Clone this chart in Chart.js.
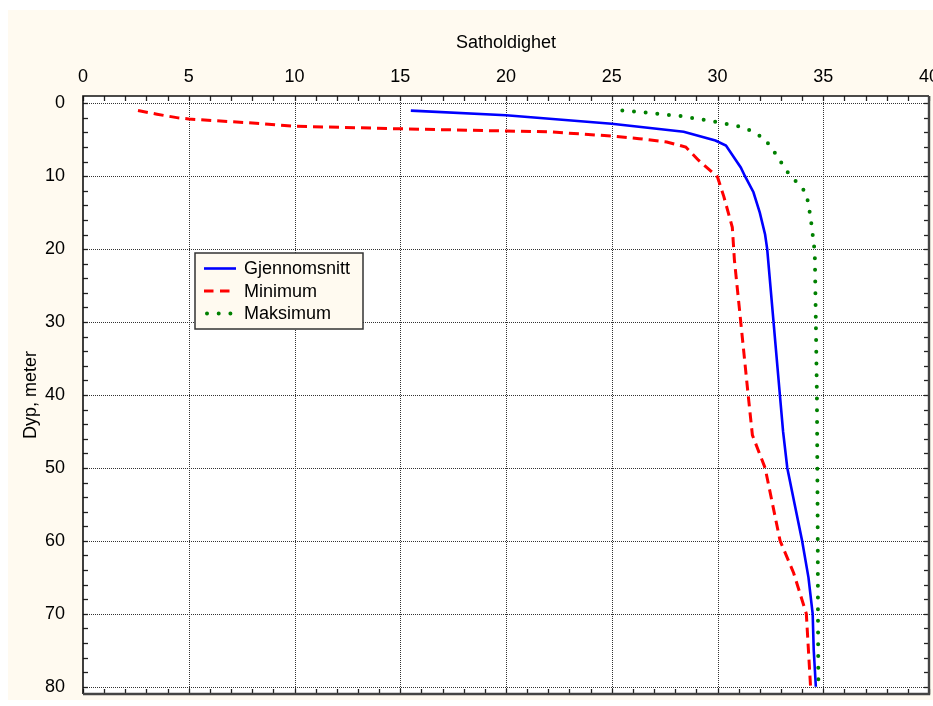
<!DOCTYPE html>
<html>
<head>
<meta charset="utf-8">
<script src="https://cdn.jsdelivr.net/npm/chart.js@4/dist/chart.umd.min.js"></script>
<style>
  html, body { margin: 0; padding: 0; background: #ffffff; }
  #wrap { position: absolute; left: 0; top: 0; width: 933px; height: 706px; }
</style>
</head>
<body>
<div id="wrap"><canvas id="c" width="933" height="706"></canvas></div>
<script>
// ---- Data (salinity vs depth) ----
const seriesNames = ['Gjennomsnitt', 'Minimum', 'Maksimum'];

const gjSal = [15.5, 20.0, 25.0, 28.4, 29.9, 30.4, 31.1, 31.3, 31.7, 32.0, 32.25, 32.35, 32.5, 32.65, 32.8, 32.95, 33.1, 33.3, 33.65, 34.0, 34.3, 34.5, 34.55, 34.65];
const gjDep = [1.0, 1.65, 2.8, 3.9, 5.1, 5.8, 8.8, 10.0, 12.2, 15.0, 18.0, 20.0, 25.0, 30.0, 35.0, 40.0, 45.0, 50.0, 55.0, 60.0, 65.0, 70.0, 75.0, 80.0];

const minSal = [2.6, 3.5, 4.5, 5.0, 8.5, 10.0, 15.0, 20.0, 22.0, 25.0, 26.3, 27.6, 28.5, 29.1, 30.0, 30.3, 30.7, 30.8, 31.1, 31.45, 31.65, 32.25, 32.96, 33.6, 34.2, 34.4];
const minDep = [1.0, 1.5, 2.0, 2.15, 2.8, 3.15, 3.5, 3.8, 3.9, 4.5, 4.85, 5.3, 6.0, 7.8, 10.1, 12.8, 17.0, 21.5, 30.0, 40.0, 45.5, 50.0, 60.0, 64.4, 70.0, 80.0];

const maksSal = [25.5, 26.7, 28.4, 30.0, 31.1, 31.6, 32.2, 32.6, 33.3, 33.8, 34.2, 34.4, 34.6, 34.65, 34.7, 34.72, 34.74, 34.75, 34.77];
const maksDep = [1.0, 1.3, 1.8, 2.6, 3.2, 3.8, 4.8, 6.3, 9.4, 11.0, 12.3, 15.6, 20.4, 30.0, 40.0, 50.0, 60.0, 70.0, 80.0];

const xTickLabels = [0, 5, 10, 15, 20, 25, 30, 35, 40];
const yTickLabels = [0, 10, 20, 30, 40, 50, 60, 70, 80];

const xTitle = 'Satholdighet';
const yTitle = 'Dyp, meter';

// ---- helpers ----
const toPts = (xs, ys) => xs.map((v, i) => ({ x: v, y: ys[i] }));
const FONT = "'Liberation Sans', Arial, sans-serif";
const BEIGE = '#fffaf0';

const styles = [
  { borderColor: '#0000ff', borderWidth: 2.6, borderDash: [], borderCapStyle: 'butt' },
  { borderColor: '#ff0000', borderWidth: 3, borderDash: [10, 6], borderCapStyle: 'butt' },
  { borderColor: '#008000', borderWidth: 4, borderDash: [0, 11.7], borderCapStyle: 'round' }
];

const datasets = [
  Object.assign({ label: seriesNames[0], data: toPts(gjSal, gjDep) }, styles[0]),
  Object.assign({ label: seriesNames[1], data: toPts(minSal, minDep) }, styles[1]),
  Object.assign({ label: seriesNames[2], data: toPts(maksSal, maksDep) }, styles[2])
].map(d => Object.assign(d, { showLine: true, pointRadius: 0, tension: 0, fill: false }));

// ---- plugins: background, grid/frame/ticks, legend ----
const decor = {
  id: 'decor',
  beforeDraw(chart) {
    const c = chart.ctx;
    c.save();
    c.fillStyle = '#ffffff';
    c.fillRect(0, 0, chart.width, chart.height);
    c.fillStyle = BEIGE;
    c.fillRect(8, 10, chart.width - 8, 690);
    const a = chart.chartArea;
    c.fillStyle = '#ffffff';
    c.fillRect(a.left, a.top, a.right - a.left, a.bottom - a.top);
    c.restore();
  },
  beforeDatasetsDraw(chart) {
    const c = chart.ctx, a = chart.chartArea;
    const xs = chart.scales.x, ys = chart.scales.y;
    c.save();
    c.strokeStyle = '#333';
    c.lineWidth = 1;
    c.setLineDash([1, 1]);
    xTickLabels.forEach(v => {
      const px = Math.round(xs.getPixelForValue(v)) + 0.5;
      if (px < a.left + 2 || px > a.right - 2) return;
      c.beginPath(); c.moveTo(px, a.top); c.lineTo(px, a.bottom); c.stroke();
    });
    yTickLabels.forEach(v => {
      const py = Math.round(ys.getPixelForValue(v)) + 0.5;
      c.beginPath(); c.moveTo(a.left, py); c.lineTo(a.right, py); c.stroke();
    });
    c.restore();
  },
  afterDatasetsDraw(chart) {
    const c = chart.ctx, a = chart.chartArea;
    const xs = chart.scales.x, ys = chart.scales.y;
    c.save();
    // minor ticks (inward) on all sides
    c.strokeStyle = '#222';
    c.lineWidth = 1.3;
    const tl = 5;
    for (let v = xs.min; v <= xs.max; v += 1) {
      const px = Math.round(xs.getPixelForValue(v)) + 0.5;
      c.beginPath(); c.moveTo(px, a.top); c.lineTo(px, a.top + tl); c.stroke();
      c.beginPath(); c.moveTo(px, a.bottom); c.lineTo(px, a.bottom - tl); c.stroke();
    }
    for (let v = 0; v <= 80; v += 2) {
      const py = Math.round(ys.getPixelForValue(v)) + 0.5;
      c.beginPath(); c.moveTo(a.left, py); c.lineTo(a.left + tl, py); c.stroke();
      c.beginPath(); c.moveTo(a.right, py); c.lineTo(a.right - tl, py); c.stroke();
    }
    // frame
    c.strokeStyle = '#111';
    c.lineWidth = 1.6;
    c.beginPath(); c.moveTo(a.left, a.bottom); c.lineTo(a.left, a.top); c.lineTo(a.right, a.top); c.stroke();
    c.strokeStyle = '#444';
    c.lineWidth = 2.4;
    c.beginPath(); c.moveTo(a.left, a.bottom); c.lineTo(a.right, a.bottom); c.lineTo(a.right, a.top); c.stroke();

    // legend
    const lx = a.left + 112, ly = a.top + 157, lw = 168, lh = 76;
    c.fillStyle = BEIGE;
    c.fillRect(lx, ly, lw, lh);
    c.strokeStyle = '#333';
    c.lineWidth = 1.5;
    c.setLineDash([]);
    c.strokeRect(lx, ly, lw, lh);
    chart.data.datasets.forEach((d, i) => {
      const cy = ly + 15.5 + i * 22.5;
      c.save();
      c.strokeStyle = d.borderColor;
      c.lineWidth = d.borderWidth;
      c.lineCap = d.borderCapStyle;
      c.setLineDash(i === 1 ? [9.5, 6.5] : d.borderDash);
      c.beginPath();
      c.moveTo(lx + (i === 2 ? 12 : 9), cy);
      c.lineTo(lx + 41, cy);
      c.stroke();
      c.restore();
      c.fillStyle = '#000';
      c.font = '18px ' + FONT;
      c.textBaseline = 'middle';
      c.textAlign = 'left';
      c.fillText(d.label, lx + 49, cy + 1);
    });
    c.restore();
  }
};

new Chart(document.getElementById('c'), {
  type: 'scatter',
  data: { datasets },
  options: {
    responsive: false,
    animation: false,
    devicePixelRatio: 1,
    layout: { padding: { left: 0, right: 4, top: 0, bottom: 12 } },
    plugins: { legend: { display: false }, tooltip: { enabled: false } },
    scales: {
      x: {
        type: 'linear', position: 'top', min: 0, max: 40,
        afterBuildTicks: s => { s.ticks = xTickLabels.map(v => ({ value: v })); },
        afterFit: s => { s.height = 96; s.paddingLeft = 0; s.paddingRight = 0; },
        grid: { display: false },
        border: { display: false },
        ticks: { color: '#000', font: { size: 18, family: FONT }, padding: 0, maxRotation: 0, autoSkip: false },
        title: { display: true, text: xTitle, color: '#000', font: { size: 18, family: FONT }, padding: { top: 32, bottom: 0 } }
      },
      y: {
        type: 'linear', position: 'left', reverse: true, min: -1, max: 81,
        afterBuildTicks: s => { s.ticks = yTickLabels.map(v => ({ value: v })); },
        afterFit: s => { s.width = 83; s.paddingTop = 0; s.paddingBottom = 0; },
        grid: { display: false },
        border: { display: false },
        ticks: { color: '#000', font: { size: 18, family: FONT }, padding: 10, autoSkip: false },
        title: { display: true, text: yTitle, color: '#000', font: { size: 18, family: FONT }, padding: { top: 20, bottom: 0 } }
      }
    }
  },
  plugins: [decor]
});
</script>
</body>
</html>
